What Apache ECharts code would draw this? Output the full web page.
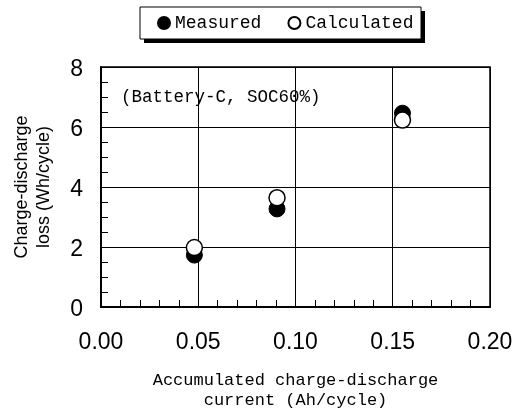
<!DOCTYPE html>
<html>
<head>
<meta charset="utf-8">
<script src="https://cdn.jsdelivr.net/npm/echarts@6/dist/echarts.min.js"></script>
<style>
html,body{margin:0;padding:0;background:#fff;}
#chart{width:521px;height:411px;}
</style>
</head>
<body>
<div id="chart"></div>
<script>
var xValues = [0.048, 0.0905, 0.155];
var measured = [1.73, 3.27, 6.46];
var calculated = [1.98, 3.64, 6.23];
var xTicks = [0, 0.05, 0.10, 0.15, 0.20];
var yTicks = [0, 2, 4, 6, 8];
var seriesNames = ['Measured', 'Calculated'];
var annotation = '(Battery-C, SOC60%)';
var xAxisName = 'Accumulated charge-discharge\ncurrent (Ah/cycle)';
var yAxisName = 'Charge-discharge\nloss (Wh/cycle)';

function pairs(xs, ys) { return xs.map(function (x, i) { return [x, ys[i]]; }); }

var chart = echarts.init(document.getElementById('chart'), null, {renderer: 'canvas'});
var mono = '"Liberation Mono", "DejaVu Sans Mono", monospace';
var sans = '"Liberation Sans", Arial, sans-serif';

chart.setOption({
  animation: false,
  backgroundColor: '#fff',
  grid: {left: 101, right: 31, top: 67, bottom: 104, containLabel: false, outerBoundsMode: 'none',
    show: true, borderColor: '#000', borderWidth: 1.5, backgroundColor: 'transparent'},
  legend: {
    data: seriesNames,
    left: 140, top: 7,
    padding: [7, 15, 7, 17],
    itemGap: 26,
    itemWidth: 12, itemHeight: 12,
    z: 10,
    textStyle: {fontFamily: mono, fontSize: 18, color: '#000'}
  },
  xAxis: {
    type: 'value', min: xTicks[0], max: xTicks[xTicks.length - 1], interval: 0.05,
    name: xAxisName, nameLocation: 'middle', nameGap: 63,
    nameTextStyle: {fontFamily: mono, fontSize: 17, color: '#000', lineHeight: 20},
    axisLine: {show: true, onZero: false, lineStyle: {color: '#000', width: 2}},
    axisTick: {show: true, inside: true, length: 7, lineStyle: {color: '#000'}},
    minorTick: {show: true, splitNumber: 5, length: 7, lineStyle: {color: '#000', width: 1}},
    splitLine: {show: true, lineStyle: {color: '#000', width: 1}},
    axisLabel: {fontFamily: sans, fontSize: 23, color: '#000', margin: 24,
      formatter: function (v) { return v.toFixed(2); }}
  },
  yAxis: {
    type: 'value', min: yTicks[0], max: yTicks[yTicks.length - 1], interval: 2,
    name: yAxisName, nameLocation: 'middle', nameGap: 46, nameRotate: 90,
    nameTextStyle: {fontFamily: sans, fontSize: 18, color: '#000', lineHeight: 22},
    axisLine: {show: true, onZero: false, lineStyle: {color: '#000', width: 2}},
    axisTick: {show: true, inside: true, length: 7, lineStyle: {color: '#000'}},
    minorTick: {show: true, splitNumber: 4, length: 7, lineStyle: {color: '#000', width: 1}},
    splitLine: {show: true, lineStyle: {color: '#000', width: 1}},
    axisLabel: {fontFamily: sans, fontSize: 23, color: '#000', margin: 18,
      formatter: function (v) { return '{t|' + v + '}'; },
      rich: {t: {fontFamily: sans, fontSize: 23, color: '#000', padding: [6, 0, 0, 0]}}}
  },
  graphic: [{
    type: 'rect', z: 0, shape: {x: 144, y: 11, width: 281, height: 32},
    style: {fill: '#000'}
  }, {
    type: 'rect', z: 1, shape: {x: 140, y: 7, width: 281, height: 32},
    style: {fill: '#fff', stroke: '#000', lineWidth: 1}
  }, {
    type: 'text', left: 121, top: 88,
    style: {text: annotation, fontFamily: mono, fontSize: 17.5, fill: '#000'}
  }],
  series: [{
    name: seriesNames[0], type: 'scatter', symbol: 'circle', symbolSize: 16,
    itemStyle: {color: '#000', borderColor: '#000', borderWidth: 1, opacity: 1},
    data: pairs(xValues, measured)
  }, {
    name: seriesNames[1], type: 'scatter', symbol: 'circle', symbolSize: 16,
    itemStyle: {color: '#fff', borderColor: '#000', borderWidth: 1.5, opacity: 1},
    data: pairs(xValues, calculated)
  }]
});
</script>
</body>
</html>
